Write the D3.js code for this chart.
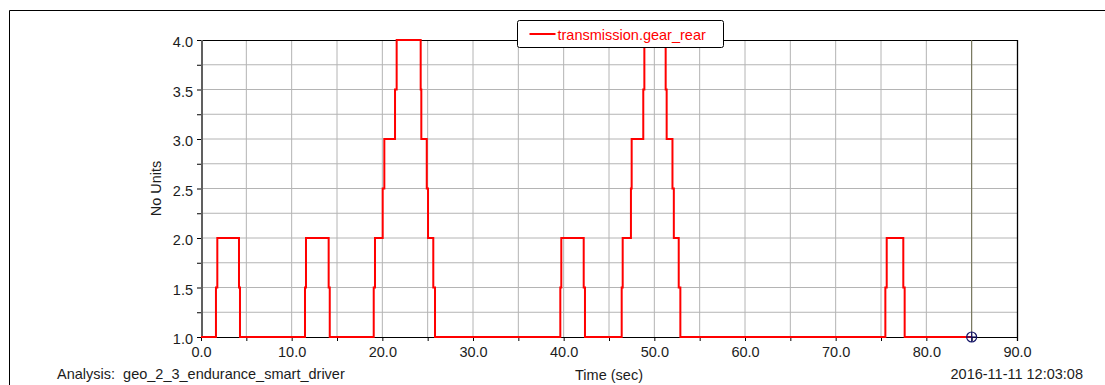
<!DOCTYPE html>
<html>
<head>
<meta charset="utf-8">
<script src="https://cdn.jsdelivr.net/npm/d3@7"></script>
<style>
  body { margin: 0; background: #fff; }
  svg { display: block; font-family: "Liberation Sans", Arial, sans-serif; }
</style>
</head>
<body>
<svg id="chart" width="1105" height="385"></svg>
<script>
// gear_rear samples (step series)
const times = [0, 1.65, 1.8, 4.19, 4.3, 11.47, 11.58, 14.08, 14.2,
  19.05, 19.19, 20.04, 20.22, 21.4, 21.58, 24.23, 24.3, 24.9, 25.04, 25.62, 25.81,
  39.63, 39.74, 42.21, 42.35,
  46.4, 46.51, 47.42, 47.5, 48.78, 48.9, 51.25, 51.36, 52.0, 52.15, 52.69, 52.87,
  75.48, 75.63, 77.46, 77.61, 85.0];
const gearRear = [1, 1.5, 2, 1.5, 1, 1.5, 2, 1.5, 1,
  1.5, 2, 2.5, 3, 3.5, 4, 3.5, 3, 2.5, 2, 1.5, 1,
  1.5, 2, 1.5, 1,
  1.5, 2, 2.5, 3, 3.5, 4, 3.5, 3, 2.5, 2, 1.5, 1,
  1.5, 2, 1.5, 1, 1];
const xTicks = d3.range(0, 90.01, 5);
const yTicks = d3.range(1, 4.001, 0.25);
const cursorTime = 85.0;
const seriesName = 'transmission.gear_rear';
const analysisName = 'Analysis:  geo_2_3_endurance_smart_driver';
const stamp = '2016-11-11 12:03:08';

const svg = d3.select('#chart');
const m = { left: 201, top: 40, right: 1017, bottom: 337 };
const FS = '14.5px';
const txt = '#1c1c1c';

const x = d3.scaleLinear().domain([0, 90]).range([m.left, m.right]);
const y = d3.scaleLinear().domain([1, 4]).range([m.bottom, m.top]);

// outer frame
svg.append('path')
  .attr('d', 'M9.5,385 V10.5 H1105')
  .attr('fill', 'none').attr('stroke', '#000').attr('stroke-width', 1);

// grid
svg.append('g').selectAll('line').data(xTicks.slice(1, -1)).join('line')
  .attr('x1', d => x(d)).attr('x2', d => x(d))
  .attr('y1', m.top).attr('y2', m.bottom)
  .attr('stroke', '#b4b4b4').attr('stroke-width', 1);
svg.append('g').selectAll('line').data(yTicks.slice(1, -1)).join('line')
  .attr('x1', m.left).attr('x2', m.right)
  .attr('y1', d => y(d)).attr('y2', d => y(d))
  .attr('stroke', '#b4b4b4').attr('stroke-width', 1);

// axes
const yAxis = svg.append('g')
  .attr('transform', `translate(${m.left},0)`)
  .call(d3.axisLeft(y).tickValues(yTicks).tickSize(4).tickPadding(4)
    .tickFormat(d => (Math.round(d * 4) % 2 === 0) ? d.toFixed(1) : ''));
yAxis.select('.domain').remove();
yAxis.selectAll('line').attr('stroke', '#000');
yAxis.selectAll('text').attr('y', 2).attr('fill', txt).style('font-size', FS).style('font-family', 'Liberation Sans, Arial');

const xAxis = svg.append('g')
  .attr('transform', `translate(0,${m.bottom})`)
  .call(d3.axisBottom(x).tickValues(xTicks).tickSize(4).tickPadding(6)
    .tickFormat(d => d % 10 === 0 ? d.toFixed(1) : ''));
xAxis.select('.domain').remove();
xAxis.selectAll('line').attr('stroke', '#000');
xAxis.selectAll('text').attr('fill', txt).style('font-size', FS).style('font-family', 'Liberation Sans, Arial');

// plot borders
svg.append('line').attr('x1', m.left).attr('x2', m.right + 0.5)
  .attr('y1', m.top + 0.5).attr('y2', m.top + 0.5).attr('stroke', '#000');
svg.append('line').attr('x1', m.right + 0.5).attr('x2', m.right + 0.5)
  .attr('y1', m.top).attr('y2', m.bottom + 4).attr('stroke', '#000').attr('stroke-width', 1.3);
svg.append('line').attr('x1', m.left).attr('x2', m.right + 1)
  .attr('y1', m.bottom + 0.5).attr('y2', m.bottom + 0.5).attr('stroke', '#000');
svg.append('line').attr('x1', m.left + 1).attr('x2', m.left + 1)
  .attr('y1', m.top).attr('y2', m.bottom + 1).attr('stroke', '#606060').attr('stroke-width', 2);

// cursor
svg.append('line').attr('x1', x(cursorTime)).attr('x2', x(cursorTime))
  .attr('y1', m.top).attr('y2', m.bottom)
  .attr('stroke', '#6e6e50').attr('stroke-width', 1);

// series
const pts = times.map((t, i) => [t, gearRear[i]]);
const line = d3.line().x(d => x(d[0])).y(d => y(d[1])).curve(d3.curveStepAfter);
svg.append('path').datum(pts)
  .attr('d', line)
  .attr('fill', 'none').attr('stroke', '#ff0000').attr('stroke-width', 2);

// cursor marker
const cx = x(cursorTime), cy = y(1);
const mk = svg.append('g').attr('stroke', '#141466').attr('stroke-width', 1.2).attr('fill', 'none');
mk.append('circle').attr('cx', cx).attr('cy', cy).attr('r', 5);
mk.append('line').attr('x1', cx - 5).attr('x2', cx + 5).attr('y1', cy).attr('y2', cy);
mk.append('line').attr('x1', cx).attr('x2', cx).attr('y1', cy - 5).attr('y2', cy + 5);

// titles
svg.append('text')
  .attr('transform', `translate(161,${(m.top + m.bottom) / 2}) rotate(-90)`)
  .attr('text-anchor', 'middle').attr('fill', txt).style('font-size', FS)
  .text('No Units');
svg.append('text').attr('x', (m.left + m.right) / 2).attr('y', 380)
  .attr('text-anchor', 'middle').attr('fill', txt).style('font-size', FS)
  .text('Time (sec)');
svg.append('text').attr('x', 57).attr('y', 379)
  .attr('fill', txt).style('font-size', FS).attr('xml:space', 'preserve')
  .style('white-space', 'pre')
  .text(analysisName);
svg.append('text').attr('x', 1083).attr('y', 379)
  .attr('text-anchor', 'end').attr('fill', txt).style('font-size', FS)
  .text(stamp);

// legend
const lg = svg.append('g').attr('transform', 'translate(517.5,20.5)');
lg.append('rect').attr('width', 206).attr('height', 27).attr('rx', 2)
  .attr('fill', '#fff').attr('stroke', '#000');
lg.append('line').attr('x1', 12).attr('x2', 38).attr('y1', 13.5).attr('y2', 13.5)
  .attr('stroke', '#ff0000').attr('stroke-width', 2);
lg.append('text').attr('x', 40).attr('y', 19).attr('fill', '#ff0000')
  .style('font-size', FS).text(seriesName);
</script>
</body>
</html>
